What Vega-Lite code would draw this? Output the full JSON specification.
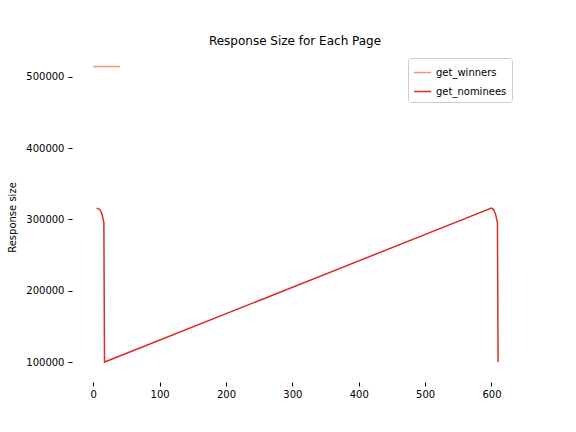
{
  "$schema": "https://vega.github.io/schema/vega-lite/v6.json",
  "width": 446,
  "height": 330,
  "padding": {"left": 72, "top": 52, "right": 58, "bottom": 50},
  "autosize": "none",
  "title": {"text": "Response Size for Each Page", "fontSize": 12, "fontWeight": "normal", "font": "DejaVu Sans", "offset": 4},
  "data": {"values": [
    {"page": 0, "size": 514500, "series": "get_winners"},
    {"page": 40, "size": 514500, "series": "get_winners"},
    {"page": 5, "size": 316000, "series": "get_nominees"},
    {"page": 10, "size": 314000, "series": "get_nominees"},
    {"page": 13, "size": 308000, "series": "get_nominees"},
    {"page": 15, "size": 300000, "series": "get_nominees"},
    {"page": 16, "size": 296000, "series": "get_nominees"},
    {"page": 17, "size": 100000, "series": "get_nominees"},
    {"page": 600, "size": 316000, "series": "get_nominees"},
    {"page": 603, "size": 314000, "series": "get_nominees"},
    {"page": 606, "size": 308000, "series": "get_nominees"},
    {"page": 608, "size": 300000, "series": "get_nominees"},
    {"page": 609, "size": 296000, "series": "get_nominees"},
    {"page": 610, "size": 100000, "series": "get_nominees"}
  ]},
  "mark": {"type": "line", "strokeWidth": 1.5},
  "encoding": {
    "x": {"field": "page", "type": "quantitative", "scale": {"domain": [-32, 640], "nice": false, "zero": false},
      "axis": {"values": [0, 100, 200, 300, 400, 500, 600], "title": null, "domain": false, "grid": false, "tickColor": "black", "tickSize": 4, "labelFont": "DejaVu Sans", "labelFontSize": 10, "labelColor": "black", "labelPadding": 3}},
    "y": {"field": "size", "type": "quantitative", "scale": {"domain": [72000, 535000], "nice": false, "zero": false},
      "axis": {"values": [100000, 200000, 300000, 400000, 500000], "format": "d", "title": "Response size", "titleFont": "DejaVu Sans", "titleFontWeight": "normal", "titleFontSize": 10, "titlePadding": 8, "domain": false, "grid": false, "tickColor": "black", "tickSize": 4, "labelFont": "DejaVu Sans", "labelFontSize": 10, "labelColor": "black", "labelPadding": 4}},
    "color": {"field": "series", "type": "nominal", "sort": ["get_winners", "get_nominees"],
      "scale": {"domain": ["get_winners", "get_nominees"], "range": ["#fc9272", "#de2d26"]},
      "legend": {"title": null, "orient": "none", "legendX": 336, "legendY": 6, "symbolType": "stroke", "symbolSize": 300, "symbolStrokeWidth": 1.5, "labelFont": "DejaVu Sans", "labelFontSize": 10, "strokeColor": "#cccccc", "padding": 5, "cornerRadius": 3, "fillColor": "white", "rowPadding": 4}}
  },
  "config": {"view": {"stroke": null}}
}
